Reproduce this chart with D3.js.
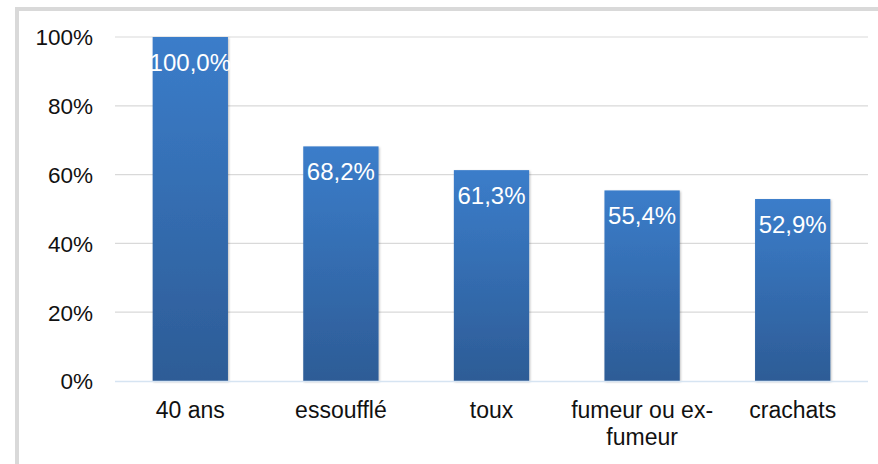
<!DOCTYPE html>
<html>
<head>
<meta charset="utf-8">
<script src="https://cdn.jsdelivr.net/npm/d3@7"></script>
<style>
  html, body { margin: 0; padding: 0; background: #fff; }
  svg { display: block; }
  text { font-family: "Liberation Sans", Arial, sans-serif; }
</style>
</head>
<body>
<script>
const categories = ["40 ans", "essoufflé", "toux", "fumeur ou ex-fumeur", "crachats"];
const categoryLines = [["40 ans"], ["essoufflé"], ["toux"], ["fumeur ou ex-", "fumeur"], ["crachats"]];
const values = [100.0, 68.2, 61.3, 55.4, 52.9];
const valueLabels = ["100,0%", "68,2%", "61,3%", "55,4%", "52,9%"];
const yTicks = [0, 20, 40, 60, 80, 100];

const W = 878, H = 464;
const svg = d3.select("body").append("svg").attr("width", W).attr("height", H);

const defs = svg.append("defs");
const grad = defs.append("linearGradient").attr("id", "barGrad")
  .attr("x1", 0).attr("y1", 0).attr("x2", 0).attr("y2", 1);
grad.append("stop").attr("offset", "0%").attr("stop-color", "#3b7dca");
grad.append("stop").attr("offset", "100%").attr("stop-color", "#2d5c96");
const filt = defs.append("filter").attr("id", "shadow").attr("x", "-10%").attr("y", "-10%").attr("width", "130%").attr("height", "130%");
filt.append("feDropShadow").attr("dx", 1).attr("dy", 1).attr("stdDeviation", 1.2).attr("flood-color", "#000").attr("flood-opacity", 0.25);

// frame (left and top)
svg.append("rect").attr("x", 15).attr("y", 7).attr("width", W - 15).attr("height", 4).attr("fill", "#d9d9d9");
svg.append("rect").attr("x", 15).attr("y", 7).attr("width", 4).attr("height", H - 7).attr("fill", "#d9d9d9");

const x = d3.scaleBand().domain(categories).range([115, 868]).paddingInner(0.5).paddingOuter(0.25);
const y = d3.scaleLinear().domain([0, 100]).range([381, 37]);

// gridlines
svg.append("g").selectAll("line").data(yTicks.filter(d => d > 0)).join("line")
  .attr("x1", 115).attr("x2", 868)
  .attr("y1", d => y(d)).attr("y2", d => y(d))
  .attr("stroke", "#d9d9d9").attr("stroke-width", 1.2);

// y axis labels
const yAxis = d3.axisLeft(y).tickValues(yTicks).tickFormat(d => d + "%").tickSize(0).tickPadding(0);
const yg = svg.append("g").attr("transform", "translate(93,0)").call(yAxis);
yg.select(".domain").remove();
yg.selectAll("text").attr("font-size", 22.5).attr("fill", "#111").attr("dy", "0.35em")
  .attr("font-family", "'Liberation Sans', Arial, sans-serif");

// bars
svg.append("g").selectAll("rect").data(values).join("rect")
  .attr("x", (d, i) => x(categories[i]))
  .attr("width", x.bandwidth())
  .attr("y", d => y(d))
  .attr("height", d => y(0) - y(d))
  .attr("fill", "url(#barGrad)")
  .attr("filter", "url(#shadow)");

// baseline
svg.append("line").attr("x1", 115).attr("x2", 868).attr("y1", y(0) + 0.5).attr("y2", y(0) + 0.5)
  .attr("stroke", "#d6e4f2").attr("stroke-width", 1.5);

// value labels
svg.append("g").selectAll("text").data(values).join("text")
  .attr("x", (d, i) => x(categories[i]) + x.bandwidth() / 2)
  .attr("y", d => y(d) + 34)
  .attr("text-anchor", "middle")
  .attr("font-size", 24)
  .attr("fill", "#fff")
  .text((d, i) => valueLabels[i]);

// category labels
const xAxis = d3.axisBottom(x).tickSize(0).tickFormat("");
const xg = svg.append("g").attr("transform", `translate(0,${y(0)})`).call(xAxis);
xg.select(".domain").remove();
xg.selectAll(".tick").each(function(d, i) {
  const t = d3.select(this).append("text")
    .attr("text-anchor", "middle").attr("font-size", 23).attr("fill", "#111")
    .attr("font-family", "'Liberation Sans', Arial, sans-serif");
  categoryLines[i].forEach((line, j) => {
    t.append("tspan").attr("x", 0).attr("y", 37 + j * 27).text(line);
  });
});
</script>
</body>
</html>
